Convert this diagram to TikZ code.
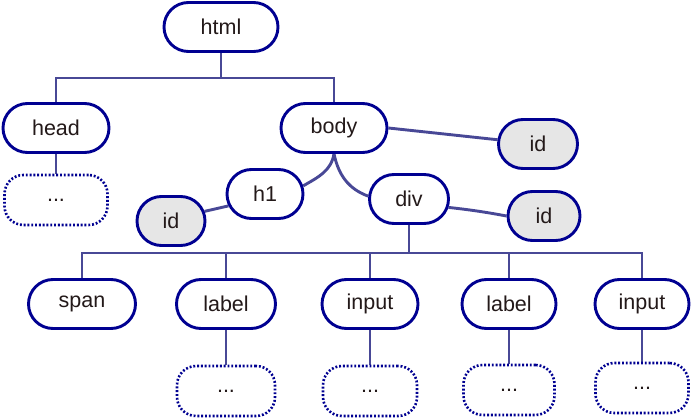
\documentclass[tikz,border=0pt]{standalone}
\usepackage{fontspec}
\setmainfont{Liberation Sans}
\usepackage{xcolor}
\usepackage{tikz}
\usetikzlibrary{shapes.misc,backgrounds}

\definecolor{nodeblue}{RGB}{0,0,145}
\definecolor{edgeblue}{RGB}{72,72,150}
\definecolor{idgray}{RGB}{230,230,230}
\definecolor{txt}{RGB}{35,25,25}

\begin{document}
\begin{tikzpicture}[x=1pt,y=1pt,
  tag/.style={rounded rectangle,draw=nodeblue,line width=2.9pt,fill=white,
    minimum height=49pt,inner sep=0pt,text=txt,font=\fontsize{21.5}{25}\selectfont},
  idtag/.style={tag,fill=idgray},
  more/.style={rectangle,rounded corners=19pt,draw=nodeblue,line width=2.6pt,fill=white,
    dash pattern=on 1.9pt off 1.9pt,minimum height=50pt,inner sep=0pt,text=txt,
    font=\fontsize{21.5}{25}\selectfont},
  edge/.style={draw=edgeblue,line width=2.9pt}]
\useasboundingbox (0,0) rectangle (692,-419);
\node[tag,minimum width=114pt] (html) at (221,-27){html};
\node[tag,minimum width=106pt] (head) at (56,-128){head};
\node[tag,minimum width=106pt] (body) at (334,-128){body};
\node[more,minimum width=103pt] (headmore) at (56,-200){...};
\node[tag,minimum width=76pt] (hone) at (265,-194){h1};
\node[idtag,minimum width=68pt] (hid) at (171,-221){id};
\node[idtag,minimum width=79pt] (bodyid) at (538,-144){id};
\node[tag,minimum width=79pt] (div) at (409,-199){div};
\node[idtag,minimum width=72pt] (divid) at (544,-216){id};
\node[tag,minimum width=107pt] (span) at (82,-304){span};
\node[tag,minimum width=99pt] (label) at (226,-304){label};
\node[tag,minimum width=96pt] (input) at (370,-304){input};
\node[tag,minimum width=94pt] (labeltwo) at (509,-304){label};
\node[tag,minimum width=94pt] (inputtwo) at (642,-304){input};
\node[more,minimum width=98pt] (labelmore) at (226,-391){...};
\node[more,minimum width=94pt] (inputmore) at (370,-391){...};
\node[more,minimum width=91pt] (labeltwomore) at (509,-390){...};
\node[more,minimum width=93pt] (inputtwomore) at (642,-388){...};
% tree lines
\coordinate (htmlbar) at (221,-78);
\coordinate (divbar) at (409,-253);
\begin{scope}[on background layer]
\draw[edge] (html.south) -- (htmlbar);
\draw[edge] (htmlbar) -| (head.north);
\draw[edge] (htmlbar) -| (body.north);
\draw[edge] (head.south) -- (headmore.north);
\draw[edge] (body.south) to[out=-100,in=30] (hone.12);
\draw[edge] (body.south) to[out=-78,in=160] (div.176);
\draw[edge] (body.east) -- (bodyid.174);
\draw[edge] (hone.198) -- (hid.16);
\draw[edge] (div.-12) to[bend left=2] (divid.west);
\draw[edge] (div.south) -- (divbar);
\foreach \n in {span,label,input,labeltwo,inputtwo}
  \draw[edge] (divbar) -| (\n.north);
\foreach \n in {label,input,labeltwo,inputtwo}
  \draw[edge] (\n.south) -- (\n more.north);
\end{scope}
\end{tikzpicture}
\end{document}
